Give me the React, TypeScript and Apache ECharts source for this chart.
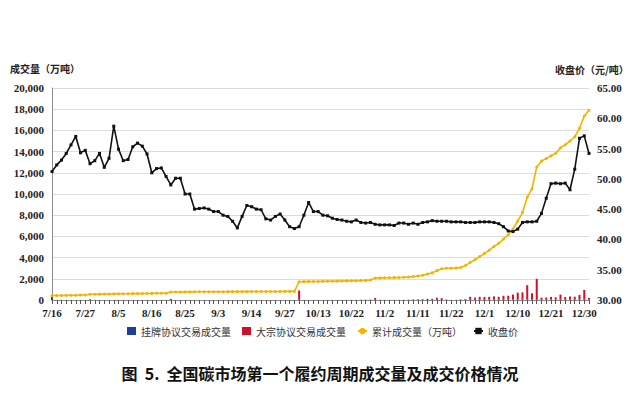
import { useEffect, useRef } from "react";
import * as echarts from "echarts";

// Trading days of the first compliance cycle (2021)
const dates = [
  "7/16", "7/19", "7/20", "7/21", "7/22", "7/23", "7/26", "7/27", "7/28", "7/29", "7/30",
  "8/2", "8/3", "8/4", "8/5", "8/6", "8/9", "8/10", "8/11", "8/12", "8/13", "8/16", "8/17", "8/18", "8/19", "8/20",
  "8/23", "8/24", "8/25", "8/26", "8/27", "8/30", "8/31",
  "9/1", "9/2", "9/3", "9/6", "9/7", "9/8", "9/9", "9/10", "9/13", "9/14", "9/15", "9/16", "9/17", "9/22", "9/23",
  "9/24", "9/27", "9/28", "9/29", "9/30",
  "10/8", "10/11", "10/12", "10/13", "10/14", "10/15", "10/18", "10/19", "10/20", "10/21", "10/22", "10/25", "10/26",
  "10/27", "10/28", "10/29",
  "11/1", "11/2", "11/3", "11/4", "11/5", "11/8", "11/9", "11/10", "11/11", "11/12", "11/15", "11/16", "11/17", "11/18",
  "11/19", "11/22", "11/23", "11/24", "11/25", "11/26", "11/29", "11/30",
  "12/1", "12/2", "12/3", "12/6", "12/7", "12/8", "12/9", "12/10", "12/13", "12/14", "12/15", "12/16", "12/17", "12/20",
  "12/21", "12/22", "12/23", "12/24", "12/27", "12/28", "12/29", "12/30", "12/31",
];

// 挂牌协议交易成交量 (万吨)
const listedVol = [
  410, 10, 9, 10, 9, 6, 9, 10, 5, 8, 7,
  5, 6, 7, 9, 6, 6, 6, 6, 6, 6, 6, 6, 6, 6, 3, 3, 3, 3, 3, 3, 3, 3,
  3, 2, 2, 2, 2, 2, 2, 2, 2, 2, 2, 2, 2, 2, 2, 2, 2, 2, 3, 20,
  10, 8, 7, 7, 8, 8, 7, 7, 10, 10, 10, 10, 15, 15, 20, 20,
  15, 10, 10, 10, 10, 10, 10, 10, 10, 10, 10, 10, 10, 5, 5, 5, 5, 10, 20, 30, 30, 30, 30,
  30, 30, 30, 30, 30, 40, 50, 50, 60, 40, 60, 40, 40, 40, 40, 40, 40, 40, 50, 60, 60, 30,
];

// 大宗协议交易成交量 (万吨)
const blockVol = [
  0, 0, 0, 0, 0, 0, 0, 0, 60, 0, 0,
  0, 0, 0, 0, 0, 0, 0, 0, 0, 0, 0, 0, 0, 0, 105, 0, 0, 0, 0, 0, 0, 0,
  0, 0, 0, 0, 0, 0, 0, 0, 0, 0, 0, 0, 0, 0, 0, 0, 0, 0, 0, 880,
  0, 0, 0, 0, 0, 0, 0, 0, 0, 0, 0, 5, 8, 10, 20, 170,
  5, 5, 5, 5, 5, 10, 15, 40, 50, 60, 100, 100, 200, 170, 35, 5, 5, 40, 60, 270, 200, 270, 260,
  270, 310, 270, 370, 370, 470, 640, 670, 1340, 590, 1940, 180, 190, 250, 210, 470, 240, 290, 260, 420, 890, 170,
];

// 累计成交量 (万吨)
const cumVol = [
  410, 420, 430, 440, 450, 455, 465, 475, 540, 548, 555,
  560, 566, 575, 582, 588, 594, 600, 606, 612, 618, 624, 630, 636, 642, 752, 756, 760, 763, 766, 769, 772, 775,
  778, 780, 782, 784, 786, 788, 790, 792, 794, 796, 798, 800, 802, 804, 806, 808, 810, 812, 815, 1720,
  1730, 1738, 1745, 1752, 1760, 1768, 1775, 1782, 1790, 1800, 1810, 1820, 1835, 1850, 1880, 2070,
  2085, 2095, 2105, 2115, 2125, 2140, 2160, 2210, 2270, 2340, 2450, 2560, 2770, 2950, 2990, 3000, 3010, 3060, 3250,
  3550, 3800, 4100, 4400,
  4700, 5050, 5350, 5750, 6150, 6700, 7450, 8250, 9700, 10500, 12550, 13100, 13350, 13600, 13850, 14350, 14650,
  15000, 15400, 16200, 17350, 17900,
];

// 收盘价 (元/吨)
const closePrice = [
  51.2, 52.3, 53.1, 54.2, 55.6, 57.0, 54.3, 54.7, 52.5, 53.0, 54.2,
  51.9, 53.4, 58.7, 54.9, 53.0, 53.2, 55.3, 55.9, 55.4, 54.1, 51.0, 51.7, 51.8, 50.4, 49.0, 50.1, 50.1, 47.5, 47.5,
  45.0, 45.1, 45.2,
  45.0, 44.6, 44.6, 44.0, 43.8, 43.0, 41.9, 43.8, 45.6, 45.4, 45.0, 44.9, 43.4, 43.2, 43.8, 44.2, 43.2, 42.1, 41.8,
  42.1,
  44.0, 46.1, 44.6, 44.6, 44.0, 43.9, 43.5, 43.3, 43.2, 43.0, 42.9, 43.2, 42.8, 42.7, 42.8, 42.5,
  42.4, 42.4, 42.4, 42.3, 42.7, 42.7, 42.5, 42.7, 42.5, 42.8, 42.9, 43.1, 43.0, 43.0, 43.0, 42.9, 42.9, 42.9, 42.8,
  42.8, 42.8, 42.9, 42.9,
  42.9, 42.8, 42.6, 42.1, 41.4, 41.3, 41.7, 42.8, 42.9, 42.9, 43.0, 44.3, 46.8, 49.2, 49.3, 49.2, 49.3, 48.2, 51.6,
  56.7, 57.1, 54.2,
];

const titleText = "图  5.  全国碳市场第一个履约周期成交量及成交价格情况";
const leftAxisName = "成交量（万吨）";
const rightAxisName = "收盘价（元/吨）";

export default function App() {
  const ref = useRef<HTMLDivElement>(null);
  useEffect(() => {
    document.body.style.margin = "0";
    const chart = echarts.init(ref.current!, null, { renderer: "svg" });
    const serif = "'Liberation Serif', 'Times New Roman', serif";
    const cjk = "'Noto Sans CJK SC', sans-serif";
    const labelStyle = { fontFamily: serif, fontSize: 11, color: "#222", fontWeight: "bold" as const };
    chart.setOption({
      animation: false,
      backgroundColor: "#ffffff",
      grid: { left: 52, right: 51, top: 88, bottom: 96 },
      title: {
        text: titleText,
        left: "center",
        top: 360,
        textStyle: { fontFamily: cjk, fontSize: 16, fontWeight: "bold", color: "#111" },
      },
      legend: {
        left: 122,
        top: 321,
        itemGap: 11,
        itemWidth: 9,
        itemHeight: 8,
        textStyle: { fontFamily: cjk, fontSize: 10, color: "#333" },
        data: [
          { name: "挂牌协议交易成交量", icon: "rect" },
          { name: "大宗协议交易成交量", icon: "rect" },
          { name: "累计成交量（万吨）" },
          { name: "收盘价" },
        ],
      },
      graphic: [
        {
          type: "text",
          left: 10,
          top: 63,
          style: { text: leftAxisName, fontFamily: cjk, fontSize: 10, fontWeight: "bold", fill: "#222" },
        },
        {
          type: "text",
          left: 555,
          top: 64,
          style: { text: rightAxisName, fontFamily: cjk, fontSize: 10, fontWeight: "bold", fill: "#222" },
        },
      ],
      xAxis: {
        type: "category",
        data: dates,
        boundaryGap: false,
        axisLine: { lineStyle: { color: "#8c8c8c" } },
        axisTick: { interval: 0, length: 4, lineStyle: { color: "#555" } },
        axisLabel: { ...labelStyle, interval: 6, margin: 7 },
        splitLine: { show: false },
      },
      yAxis: [
        {
          type: "value",
          min: 0,
          max: 20000,
          interval: 2000,
          axisLine: { show: true, lineStyle: { color: "#8c8c8c" } },
          axisTick: { show: false },
          splitLine: { lineStyle: { color: "#dcdcdc" } },
          axisLabel: {
            ...labelStyle,
            margin: 8,
            formatter: (v: number) => v.toLocaleString("en-US"),
          },
        },
        {
          type: "value",
          min: 30,
          max: 65,
          interval: 5,
          position: "right",
          axisLine: { show: false },
          axisTick: { show: false },
          splitLine: { show: false },
          axisLabel: { ...labelStyle, margin: 8, formatter: (v: number) => v.toFixed(2) },
        },
      ],
      series: [
        {
          name: "挂牌协议交易成交量",
          type: "bar",
          stack: "vol",
          barWidth: 2,
          yAxisIndex: 0,
          itemStyle: { color: "#1f3c99" },
          data: listedVol,
        },
        {
          name: "大宗协议交易成交量",
          type: "bar",
          stack: "vol",
          barWidth: 2,
          yAxisIndex: 0,
          itemStyle: { color: "#d0102a" },
          data: blockVol,
        },
        {
          name: "累计成交量（万吨）",
          type: "line",
          yAxisIndex: 0,
          symbol: "circle",
          symbolSize: 3,
          lineStyle: { color: "#f2b400", width: 1.6 },
          itemStyle: { color: "#f2b400" },
          data: cumVol,
        },
        {
          name: "收盘价",
          type: "line",
          yAxisIndex: 1,
          symbol: "rect",
          symbolSize: 3,
          lineStyle: { color: "#111", width: 1.6 },
          itemStyle: { color: "#111" },
          data: closePrice,
        },
      ],
    });
    return () => chart.dispose();
  }, []);
  return <div ref={ref} style={{ position: "fixed", left: 0, top: 0, width: 640, height: 396 }} />;
}
